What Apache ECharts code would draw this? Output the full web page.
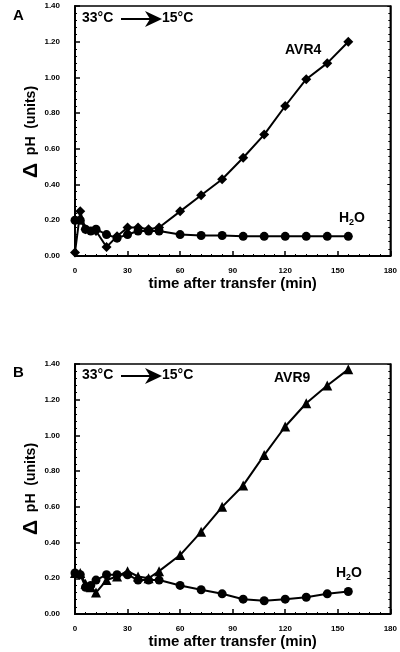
<!DOCTYPE html>
<html>
<head>
<meta charset="utf-8">
<script src="https://cdn.jsdelivr.net/npm/echarts@6/dist/echarts.min.js"></script>
<style>
html,body{margin:0;padding:0;background:#fff;}
#c{width:400px;height:652px;}
</style>
</head>
<body>
<div id="c"></div>
<script>
// Panel A
const timesA = [0, 3, 6, 12, 18, 24, 30, 36, 42, 48, 60, 72, 84, 96, 108, 120, 132, 144, 156];
const avr4 = [0.02, 0.25, 0.15, 0.14, 0.05, 0.11, 0.16, 0.16, 0.15, 0.16, 0.25, 0.34, 0.43, 0.55, 0.68, 0.84, 0.99, 1.08, 1.20];
const timesA_h2o = [0, 3, 6, 9, 12, 18, 24, 30, 36, 42, 48, 60, 72, 84, 96, 108, 120, 132, 144, 156];
const h2oA = [0.20, 0.20, 0.15, 0.14, 0.15, 0.12, 0.10, 0.12, 0.14, 0.14, 0.14, 0.12, 0.115, 0.115, 0.11, 0.11, 0.11, 0.11, 0.11, 0.11];
// Panel B
const timesB = [0, 3, 6, 9, 12, 18, 24, 30, 36, 42, 48, 60, 72, 84, 96, 108, 120, 132, 144, 156];
const avr9 = [0.23, 0.23, 0.17, 0.15, 0.12, 0.19, 0.21, 0.24, 0.21, 0.20, 0.24, 0.33, 0.46, 0.60, 0.72, 0.89, 1.05, 1.18, 1.28, 1.37];
const h2oB = [0.23, 0.22, 0.15, 0.16, 0.19, 0.22, 0.22, 0.22, 0.19, 0.19, 0.19, 0.16, 0.136, 0.113, 0.083, 0.074, 0.083, 0.094, 0.113, 0.126];
// axis ticks
const xMin = 0, xMax = 180, xStep = 30;
const yMin = 0, yMax = 1.4, yStep = 0.2;

const pairs = (t, v) => t.map((x, i) => [x, v[i]]);
const FONT = 'Liberation Sans, Arial, sans-serif';

function xAxisCfg(gi) {
  return {
    gridIndex: gi, type: 'value', min: xMin, max: xMax, interval: xStep,
    name: 'time after transfer (min)', nameLocation: 'middle', nameGap: 20,
    nameTextStyle: {fontFamily: FONT, fontWeight: 'bold', fontSize: 15, color: '#000'},
    axisLine: {lineStyle: {color: '#000', width: 2}},
    axisTick: {inside: true, length: 5, lineStyle: {color: '#000', width: 1.5}},
    minorTick: {show: true, splitNumber: 5, length: 2, lineStyle: {color: '#000', width: 1}},
    axisLabel: {fontFamily: FONT, fontWeight: 'bold', fontSize: 8, color: '#000', margin: 11},
    splitLine: {show: false}
  };
}
function yAxisCfg(gi) {
  return {
    gridIndex: gi, type: 'value', min: yMin, max: yMax, interval: yStep,
    axisLine: {lineStyle: {color: '#000', width: 2}},
    axisTick: {inside: true, length: 5, lineStyle: {color: '#000', width: 1.5}},
    minorTick: {show: true, splitNumber: 5, length: 2, lineStyle: {color: '#000', width: 1}},
    axisLabel: {fontFamily: FONT, fontWeight: 'bold', fontSize: 8, color: '#000', margin: 15,
      formatter: v => v.toFixed(2)},
    splitLine: {show: false}
  };
}
function yRightCfg(gi) {
  return {
    gridIndex: gi, type: 'value', position: 'right', min: yMin, max: yMax, interval: yStep,
    axisLine: {show: true, lineStyle: {color: '#000', width: 1.5}},
    axisTick: {inside: true, length: 3, lineStyle: {color: '#000', width: 1}},
    minorTick: {show: true, splitNumber: 5, length: 2, lineStyle: {color: '#000', width: 1}},
    axisLabel: {show: false}, splitLine: {show: false}
  };
}
function lineSeries(name, xi, yi, data, symbol, size) {
  return {
    name, type: 'line', xAxisIndex: xi, yAxisIndex: yi, data,
    symbol, symbolSize: size, showAllSymbol: true,
    lineStyle: {color: '#000', width: 2}, itemStyle: {color: '#000'},
    animation: false, z: 3
  };
}
function yTitle(cy) {
  return {type: 'text', x: 31, y: cy, rotation: Math.PI / 2, style: {
    text: '{d|Δ}  pH  (units)', align: 'center', verticalAlign: 'middle',
    rich: {
      t: {},
      d: {fontFamily: FONT, fontWeight: 'bold', fontSize: 21, fill: '#000'}
    },
    font: 'bold 14px ' + FONT, fill: '#000'
  }};
}
function annot(dy) {
  return [
    {type: 'text', left: 82, top: 11 + dy, style: {text: '33°C', font: 'bold 14px ' + FONT, fill: '#000'}},
    {type: 'line', shape: {x1: 121, y1: 19 + dy, x2: 152, y2: 19 + dy}, style: {stroke: '#000', lineWidth: 2}},
    {type: 'polygon', shape: {points: [[145, 11 + dy], [162, 19 + dy], [145, 27 + dy], [150, 19 + dy]]}, style: {fill: '#000'}},
    {type: 'text', left: 162, top: 11 + dy, style: {text: '15°C', font: 'bold 14px ' + FONT, fill: '#000'}}
  ];
}
function h2oLabel(x, y) {
  return {type: 'text', left: x, top: y, style: {
    text: '{a|H}{b|2}{a|O}',
    rich: {
      a: {fontFamily: FONT, fontWeight: 'bold', fontSize: 14, fill: '#000', lineHeight: 16},
      b: {fontFamily: FONT, fontWeight: 'bold', fontSize: 9, fill: '#000', padding: [8, 0, 0, 0], lineHeight: 16}
    }
  }};
}

const chart = echarts.init(document.getElementById('c'), null, {renderer: 'canvas'});
chart.setOption({
  backgroundColor: '#fff',
  animation: false,
  grid: [
    {left: 75, top: 6, width: 316, height: 250, show: true, borderColor: '#000', borderWidth: 1.5, backgroundColor: 'transparent'},
    {left: 75, top: 364, width: 316, height: 250, show: true, borderColor: '#000', borderWidth: 1.5, backgroundColor: 'transparent'}
  ],
  xAxis: [xAxisCfg(0), xAxisCfg(1)],
  yAxis: [yAxisCfg(0), yAxisCfg(1), yRightCfg(0), yRightCfg(1)],
  series: [
    lineSeries('H2O A', 0, 0, pairs(timesA_h2o, h2oA), 'circle', 9),
    lineSeries('AVR4', 0, 0, pairs(timesA, avr4), 'diamond', 10),
    lineSeries('H2O B', 1, 1, pairs(timesB, h2oB), 'circle', 9),
    lineSeries('AVR9', 1, 1, pairs(timesB, avr9), 'triangle', 10)
  ],
  graphic: [
    {type: 'text', left: 13, top: 8, style: {text: 'A', font: 'bold 15px ' + FONT, fill: '#000'}},
    {type: 'text', left: 13, top: 365, style: {text: 'B', font: 'bold 15px ' + FONT, fill: '#000'}},
    yTitle(132),
    yTitle(489),
    ...annot(0),
    ...annot(357),
    {type: 'text', left: 285, top: 43, style: {text: 'AVR4', font: 'bold 14px ' + FONT, fill: '#000'}},
    {type: 'text', left: 274, top: 371, style: {text: 'AVR9', font: 'bold 14px ' + FONT, fill: '#000'}},
    h2oLabel(339, 210),
    h2oLabel(336, 565)
  ]
});
</script>
</body>
</html>
